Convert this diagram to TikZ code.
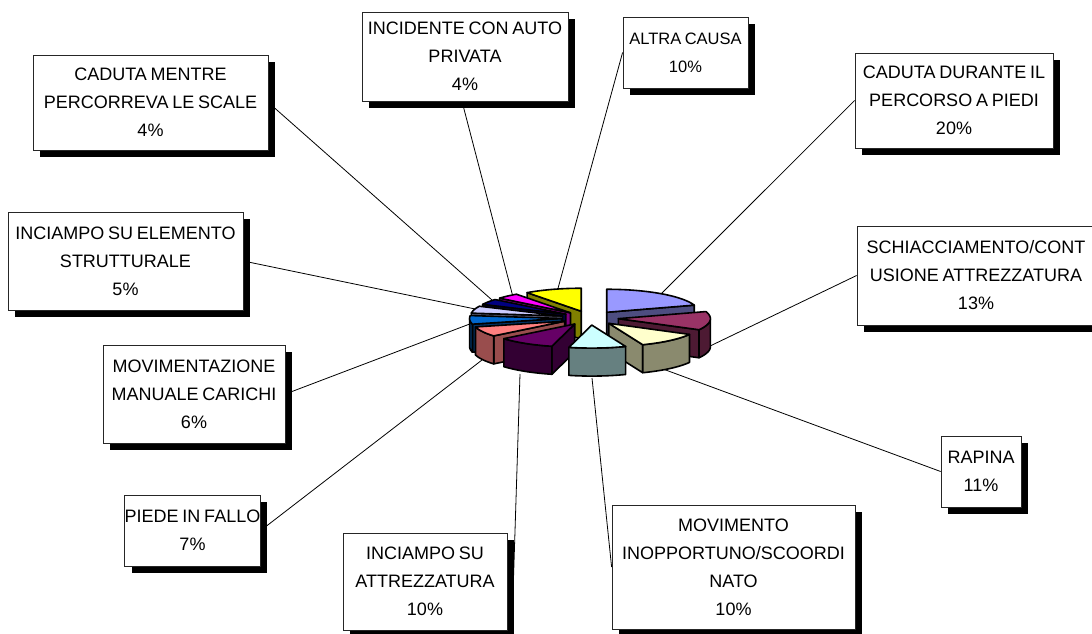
\documentclass[tikz,border=0pt]{standalone}
\usepackage{fontspec}
\setmainfont{Liberation Sans}[WordSpace=0.75]
\usetikzlibrary{shadows,backgrounds}
\definecolor{cLav}{HTML}{9999FF}\definecolor{cLavS}{HTML}{4D4D80}
\definecolor{cMar}{HTML}{993366}\definecolor{cMarS}{HTML}{4D1A33}
\definecolor{cCre}{HTML}{FFFFCC}\definecolor{cCreS}{HTML}{8A8A6E}
\definecolor{cCya}{HTML}{CCFFFF}\definecolor{cCyaS}{HTML}{668080}
\definecolor{cPur}{HTML}{660066}\definecolor{cPurS}{HTML}{330033}
\definecolor{cSal}{HTML}{FF8080}\definecolor{cSalS}{HTML}{994D4D}
\definecolor{cBlu}{HTML}{0066CC}\definecolor{cBluS}{HTML}{003366}
\definecolor{cLil}{HTML}{CCCCFF}\definecolor{cLilS}{HTML}{666680}
\definecolor{cNav}{HTML}{000080}\definecolor{cNavS}{HTML}{000040}
\definecolor{cMag}{HTML}{FF00FF}\definecolor{cMagS}{HTML}{800080}
\definecolor{cYel}{HTML}{FFFF00}\definecolor{cYelS}{HTML}{808000}
\def\pieCX{590}\def\pieCY{318}\def\pieRX{92}\def\pieRY{23}
\def\pieEX{28.5}\def\pieEY{7.1}\def\pieH{28}
\newcommand{\drawpieslice}[4]{%
  \pgfmathsetmacro{\slM}{(#1+#2)/2}%
  \pgfmathsetmacro{\slTx}{\pieCX+\pieEX*cos(\slM)}%
  \pgfmathsetmacro{\slTy}{\pieCY-\pieEY*sin(\slM)}%
  \pgfmathtruncatemacro{\slVa}{cos(#1)>0.01 ? 1 : 0}%
  \ifnum\slVa=1
    \filldraw[pieedge,fill=#4] (\slTx,\slTy) -- ({\slTx+\pieRX*cos(#1)},{\slTy-\pieRY*sin(#1)}) -- ({\slTx+\pieRX*cos(#1)},{\slTy-\pieRY*sin(#1)+\pieH}) -- (\slTx,{\slTy+\pieH}) -- cycle;
  \fi
  \pgfmathtruncatemacro{\slVb}{cos(#2)<-0.01 ? 1 : 0}%
  \ifnum\slVb=1
    \filldraw[pieedge,fill=#4] (\slTx,\slTy) -- ({\slTx+\pieRX*cos(#2)},{\slTy-\pieRY*sin(#2)}) -- ({\slTx+\pieRX*cos(#2)},{\slTy-\pieRY*sin(#2)+\pieH}) -- (\slTx,{\slTy+\pieH}) -- cycle;
  \fi
  \pgfmathsetmacro{\slS}{max(#1,-180)}%
  \pgfmathsetmacro{\slE}{min(#2,0)}%
  \pgfmathtruncatemacro{\slVc}{\slS<\slE-0.01 ? 1 : 0}%
  \ifnum\slVc=1
    \filldraw[pieedge,fill=#4] plot[domain=\slS:\slE,samples=25] ({\slTx+\pieRX*cos(\x)},{\slTy-\pieRY*sin(\x)}) -- plot[domain=\slE:\slS,samples=25] ({\slTx+\pieRX*cos(\x)},{\slTy-\pieRY*sin(\x)+\pieH}) -- cycle;
  \fi
  \filldraw[pieedge,fill=#3] (\slTx,\slTy) -- plot[domain=#1:#2,samples=30] ({\slTx+\pieRX*cos(\x)},{\slTy-\pieRY*sin(\x)}) -- cycle;
}
\tikzset{
  lbl/.style={draw=black!85, line width=0.8pt, fill=white, align=center, inner sep=0pt,
    font=\fontsize{18}{28}\selectfont,
    drop shadow={shadow xshift=7pt,shadow yshift=-7pt,opacity=1,fill=black}},
  smalltext/.style={font=\fontsize{16.5}{28}\selectfont},
  pieedge/.style={draw=black, line width=1.6pt, line join=round},
  leader/.style={draw=black, line width=0.8pt},
}
\begin{document}
\begin{tikzpicture}[x=1pt,y=-1pt]
\useasboundingbox (0,0) rectangle (1092,634);
% pie, back to front
\drawpieslice{-270}{-234}{cYel}{cYelS}
\drawpieslice{18}{90}{cLav}{cLavS}
\drawpieslice{-234}{-219.6}{cMag}{cMagS}
\drawpieslice{-219.6}{-205.2}{cNav}{cNavS}
\drawpieslice{-205.2}{-187.2}{cLil}{cLilS}
\drawpieslice{-187.2}{-165.6}{cBlu}{cBluS}
\drawpieslice{-28.8}{18}{cMar}{cMarS}
\drawpieslice{-165.6}{-140.4}{cSal}{cSalS}
\drawpieslice{-68.4}{-28.8}{cCre}{cCreS}
\drawpieslice{-140.4}{-104.4}{cPur}{cPurS}
\drawpieslice{-104.4}{-68.4}{cCya}{cCyaS}
% pie attach points
\coordinate (p1) at (492,300);
\coordinate (p2) at (513,297);
\coordinate (p3) at (557,292);
\coordinate (p4) at (660,295);
\coordinate (p5) at (708,347);
\coordinate (p6) at (663,369);
\coordinate (p7) at (592,378);
\coordinate (p8) at (520,374);
\coordinate (p9) at (482,360);
\coordinate (p10) at (475,322);
\coordinate (p11) at (480,310);
% labels
\node[lbl,minimum width=235pt,minimum height=95pt] (b1) at (150.5,102.5) {CADUTA MENTRE\\PERCORREVA LE SCALE\\4\%};
\node[lbl,minimum width=206pt,minimum height=89pt] (b2) at (465,56.5) {INCIDENTE CON AUTO\\PRIVATA\\4\%};
\node[lbl,smalltext,minimum width=125pt,minimum height=71pt] (b3) at (685.5,52.5) {ALTRA CAUSA\\10\%};
\node[lbl,minimum width=198pt,minimum height=95pt] (b4) at (954,100.5) {CADUTA DURANTE IL\\PERCORSO A PIEDI\\20\%};
\node[lbl,minimum width=238pt,minimum height=99pt] (b5) at (976,275.5) {SCHIACCIAMENTO/CONT\\USIONE ATTREZZATURA\\13\%};
\node[lbl,minimum width=80pt,minimum height=71pt] (b6) at (981,471.5) {RAPINA\\11\%};
\node[lbl,minimum width=243pt,minimum height=124pt] (b7) at (733.5,567) {MOVIMENTO\\INOPPORTUNO/SCOORDI\\NATO\\10\%};
\node[lbl,minimum width=164pt,minimum height=97pt] (b8) at (425,581.5) {INCIAMPO SU\\ATTREZZATURA\\10\%};
\node[lbl,minimum width=131pt,minimum height=71pt] (b9) at (192.5,530.5) {PIEDE IN FALLO\\7\%};
\node[lbl,minimum width=182pt,minimum height=98pt] (b10) at (194,394) {MOVIMENTAZIONE\\MANUALE CARICHI\\6\%};
\node[lbl,minimum width=235pt,minimum height=98pt] (b11) at (125.5,261) {INCIAMPO SU ELEMENTO\\STRUTTURALE\\5\%};
% leader lines
\begin{pgfonlayer}{background}
\fill[white] (0,0) rectangle (1092,634);
\draw[leader] (b1.east) -- (p1);
\draw[leader] ([xshift=-3pt]b2.south) -- (p2);
\draw[leader] (b3.west) -- (p3);
\draw[leader] (b4.west) -- (p4);
\draw[leader] (b5.west) -- (p5);
\draw[leader] (b6.west) -- (p6);
\draw[leader] (b7.west) -- (p7);
\draw[leader] ([xshift=6pt]b8.east) -- (p8);
\draw[leader] (b9.east) -- (p9);
\draw[leader] (b10.east) -- (p10);
\draw[leader] (b11.east) -- (p11);
\end{pgfonlayer}
\end{tikzpicture}
\end{document}
